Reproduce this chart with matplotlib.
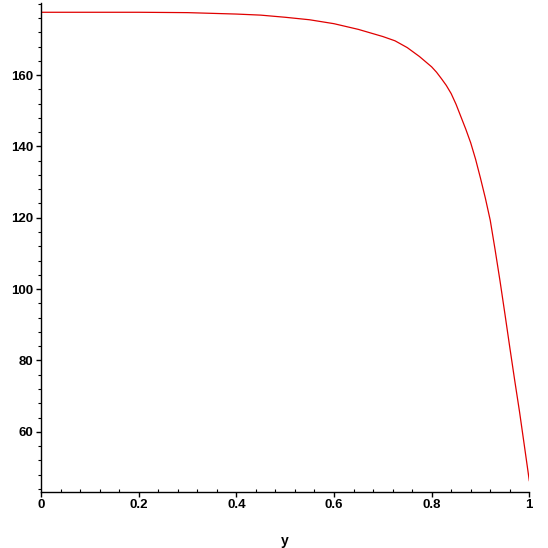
import matplotlib
matplotlib.use("Agg")
import matplotlib.pyplot as plt
from matplotlib.ticker import MultipleLocator

xs = [0.0, 0.1, 0.2, 0.3, 0.35, 0.4, 0.45, 0.5, 0.55, 0.6, 0.65, 0.7, 0.725, 0.75,
      0.775, 0.8, 0.81, 0.82, 0.83, 0.84, 0.85, 0.86, 0.87, 0.88, 0.89, 0.9, 0.91,
      0.92, 0.93, 0.94, 0.95, 0.96, 0.97, 0.98, 0.99, 1.0]
ys = [177.6, 177.6, 177.6, 177.5, 177.3, 177.1, 176.8, 176.2, 175.5, 174.4, 172.8,
      170.8, 169.6, 167.7, 165.2, 162.3, 160.8, 159.0, 157.1, 154.8, 151.8, 148.3,
      144.8, 141.0, 136.4, 131.1, 125.5, 119.3, 111.0, 102.3, 93.1, 83.7, 74.5,
      65.6, 56.0, 46.3]
xticks = [0, 0.2, 0.4, 0.6, 0.8, 1]
xticklabels = ["0", "0.2", "0.4", "0.6", "0.8", "1"]
yticks = [60, 80, 100, 120, 140, 160]

plt.rcParams['font.family'] = ['Liberation Sans', 'DejaVu Sans']

fig = plt.figure(figsize=(5.48, 5.48), dpi=100)
ax = fig.add_axes([41/548, 1 - 491.7/548, (529.3 - 41)/548, (491.7 - 3)/548])
ax.plot(xs, ys, color='#e00000', lw=0.9)
ax.set_xlim(0, 1)
ax.set_ylim(43.2, 180.2)
for s in ['top', 'right']:
    ax.spines[s].set_visible(False)
for s in ['left', 'bottom']:
    ax.spines[s].set_linewidth(1.0)
ax.set_xticks(xticks)
ax.set_xticklabels(xticklabels)
ax.set_yticks(yticks)
ax.xaxis.set_minor_locator(MultipleLocator(0.04))
ax.yaxis.set_minor_locator(MultipleLocator(4))
ax.tick_params(axis='both', which='major', direction='out', length=3.5, width=1,
               labelsize=9.5, pad=2)
ax.tick_params(axis='x', which='minor', direction='in', length=2, width=0.8)
ax.tick_params(axis='y', which='minor', direction='out', length=2, width=0.8)
for lab in ax.get_xticklabels() + ax.get_yticklabels():
    lab.set_fontweight('bold')
ax.set_xlabel('y', fontsize=10, fontweight='bold', va='center')
ax.xaxis.set_label_coords(0.5, (491.7 - 541) / 488.7)
fig.savefig('out.png', dpi=100)
